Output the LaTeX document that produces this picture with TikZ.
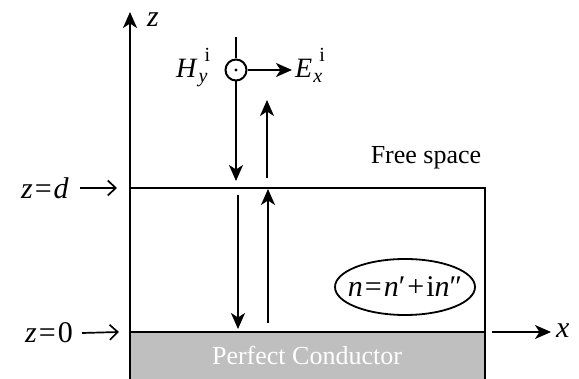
\documentclass[tikz,border=0pt]{standalone}
\usepackage{amsmath}
\usepackage{fontspec}
\setmainfont{Liberation Serif}
\usetikzlibrary{arrows.meta, positioning, calc, shapes.geometric}
\definecolor{pecgray}{RGB}{191,191,191}
\newcommand{\fieldlbl}[3]{\textit{#1}\kern1pt\rlap{\raisebox{16pt}{\fontsize{20}{20}\selectfont\kern6pt #3}}\raisebox{-5pt}{\fontsize{20}{20}\selectfont\textit{#2}}\kern4pt}

\begin{document}
\begin{tikzpicture}[x=1pt, y=-1pt,
  arr/.style={-{Stealth[length=16pt, width=14pt, inset=4.5pt]}, line width=1.9pt},
  tag/.style={-{Straight Barb[length=8pt, width=15pt]}, line width=1.7pt},
  lbl/.style={font=\fontsize{30}{32}\selectfont, inner sep=0pt},
  wall/.style={line width=2.5pt}
]
\useasboundingbox (0,0) rectangle (579,379);
% perfect conductor
\fill[pecgray] (130,332) rectangle (485,379);
\node[font=\fontsize{26}{28}\selectfont, text=white, inner sep=0pt] (pec) at (307,355) {Perfect Conductor};
% slab
\draw[wall] (130,379) -- (130,188) -- (485,188) -- (485,379);
\draw[wall] (130,332) -- (485,332);
\coordinate (top) at (130,188);
% axes
\coordinate (zend) at (130,12);
\draw[arr] (top) -- (zend);
\node[lbl, anchor=west] (zlab) at (147,20) {\textit{z}};
\coordinate (xstart) at (492,332);
\coordinate (xend) at (551,332);
\draw[arr] (xstart) -- (xend);
\node[lbl, anchor=west] (xlab) at (556,331) {\textit{x}};
% interface labels
\node[lbl, anchor=east] (zd) at (69,188) {\textit{z}\kern2pt=\kern2pt\textit{d}};
\node[lbl, anchor=east] (z0) at (73,333) {\textit{z}\kern2pt=\kern2pt0};
\coordinate (zdtip) at (117,188);
\coordinate (z0tip) at (119,332);
\draw[tag] ($(zd.east)+(11,0)$) -- (zdtip);
\draw[tag] ($(z0.east)+(9,0)$) -- (z0tip);
% incident field
\node[circle, draw, line width=2pt, minimum size=21pt, inner sep=0pt] (H) at (236,70) {};
\fill (H.center) circle (1.7pt);
\coordinate (hin) at (236,37);
\draw[line width=1.9pt] (hin) -- (H.north);
\coordinate (eend) at (292,70);
\draw[arr] (H.east) -- (eend);
\node[font=\fontsize{28}{30}\selectfont, inner sep=0pt, anchor=base west] (Elab) at (295,78) {\fieldlbl{E}{x}{i}};
\node[font=\fontsize{28}{30}\selectfont, inner sep=0pt, anchor=base west] (Hlab) at (176,78) {\fieldlbl{H}{y}{i}};
% incident and reflected waves
\coordinate (in1) at (236,181);
\coordinate (in2) at (238,195);
\coordinate (in3) at (238,329);
\draw[arr] (H.south) -- (in1);
\draw[arr] (in2) -- (in3);
\coordinate (re1) at (268,323);
\coordinate (re2) at (268,189);
\coordinate (re3) at (267,178);
\coordinate (re4) at (267,100);
\draw[arr] (re1) -- (re2);
\draw[arr] (re3) -- (re4);
% medium
\node[font=\fontsize{30}{32}\selectfont, inner sep=0pt] (n) at (405,287)
  {\textit{n}\kern2pt=\kern2pt\textit{n}′\kern2pt+\kern2pt i\textit{n}″};
\draw[line width=1.8pt] (n.center) ellipse (70 and 28);
\node[font=\fontsize{26}{28}\selectfont, inner sep=0pt] (free) at (426,158) {Free space};
\end{tikzpicture}
\end{document}
